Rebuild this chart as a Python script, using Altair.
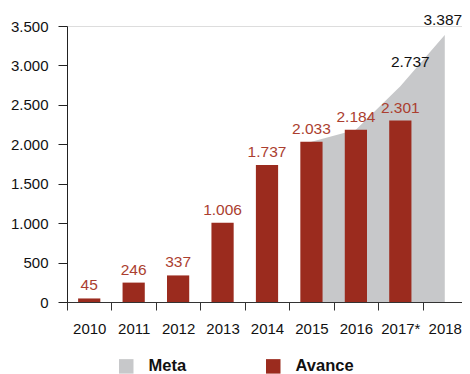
import altair as alt
import pandas as pd

years = ["2010", "2011", "2012", "2013", "2014", "2015", "2016", "2017*", "2018"]
avance_years = ["2010", "2011", "2012", "2013", "2014", "2015", "2016", "2017*"]
avance = [45, 246, 337, 1006, 1737, 2033, 2184, 2301]
meta_years = ["2015", "2016", "2017*", "2018"]
meta = [2033, 2184, 2737, 3387]
y_ticks = [0, 500, 1000, 1500, 2000, 2500, 3000, 3500]


def fmt(v):
    return f"{v:,}".replace(",", ".")


av = pd.DataFrame({"year": avance_years, "value": avance, "serie": "Avance",
                   "label": [fmt(v) for v in avance]})
mt = pd.DataFrame({"year": meta_years, "value": meta, "serie": "Meta",
                   "label": [fmt(v) for v in meta]})

RED = "#9b2b1e"
GRAY = "#c7c8ca"
LABEL_RED = "#ab3e2f"
FONT = "Liberation Sans, Arial"

x = alt.X("year:O", sort=years,
          scale=alt.Scale(domain=years, paddingInner=0, paddingOuter=0, range=[0, 400]),
          axis=alt.Axis(title=None, labelAngle=0, tickBand="extent", tickSize=8,
                        labelFont=FONT, labelFontSize=15, labelColor="#111",
                        labelPadding=11, domainColor="#333", tickColor="#333"))
y = alt.Y("value:Q", scale=alt.Scale(domain=[0, 3500], nice=False),
          axis=alt.Axis(title=None, values=y_ticks, grid=False, tickSize=9,
                        labelExpr="replace(format(datum.value, ','), ',', '.')",
                        labelFont=FONT, labelFontSize=15, labelColor="#111",
                        labelPadding=10, domainColor="#222", tickColor="#222"))
color = alt.Color("serie:N",
                  scale=alt.Scale(domain=["Meta", "Avance"], range=[GRAY, RED]),
                  legend=alt.Legend(title=None, orient="none", legendX=51, legendY=332,
                                    direction="horizontal", symbolType="square",
                                    symbolSize=210, symbolStrokeWidth=0,
                                    labelFont=FONT, labelFontSize=16.5,
                                    labelFontWeight="bold", labelColor="#111",
                                    labelOffset=14, columnPadding=78))

area = alt.Chart(mt).mark_area(opacity=1).encode(x=x, y=y, color=color)
bars = alt.Chart(av).mark_bar(width=alt.RelativeBandSize(0.5)).encode(x=x, y=y, color=color)
bar_text = alt.Chart(av).mark_text(dy=-8, baseline="alphabetic", font=FONT,
                                   fontSize=15.5, color=LABEL_RED).encode(
    x=x, y=y, text="label:N")
meta17 = alt.Chart(mt).transform_filter(alt.datum.year == "2017*").mark_text(
    dx=10, dy=-19, baseline="alphabetic", font=FONT, fontSize=15.5, color="#111"
).encode(x=x, y=y, text="label:N")
meta18 = alt.Chart(mt).transform_filter(alt.datum.year == "2018").mark_text(
    dx=-2, dy=-10, baseline="alphabetic", font=FONT, fontSize=15.5, color="#111"
).encode(x=x, y=y, text="label:N")

chart = alt.layer(area, bars, bar_text, meta17, meta18).properties(
    width=395, height=276,
    autosize=alt.AutoSizeParams(type="none"),
    padding={"left": 59, "top": 18, "right": 0, "bottom": 72},
).configure_view(stroke=None).configure(background="white")

chart.save("out.html", embed_options={"renderer": "svg", "actions": False})
